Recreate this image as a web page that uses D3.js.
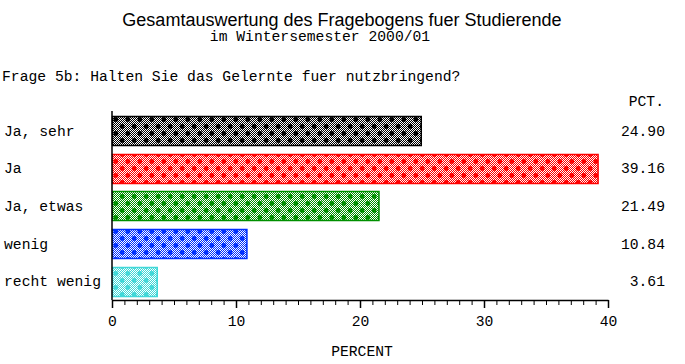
<!DOCTYPE html>
<html>
<head>
<meta charset="utf-8">
<script src="https://cdn.jsdelivr.net/npm/d3@7"></script>
<style>
body { margin: 0; background: #fff; }
text { font-family: "Liberation Mono", monospace; font-size: 14.7px; fill: #000; }
</style>
</head>
<body>
<div id="chart"></div>
<script>
var categories = ["Ja, sehr", "Ja", "Ja, etwas", "wenig", "recht wenig"];
var pctValues = [24.90, 39.16, 21.49, 10.84, 3.61];
var barColors = ["#000000", "#ff0000", "#009000", "#0030ff", "#40d8d8"];
var majorTicks = [0, 10, 20, 30, 40];

var width = 685, height = 364;
var svg = d3.select("#chart").append("svg").attr("width", width).attr("height", height);
var defs = svg.append("defs");

// hatch fill: fine checker + staggered dots
barColors.forEach(function(c, i) {
  var chk = defs.append("pattern").attr("id", "chk" + i).attr("width", 2).attr("height", 2)
    .attr("patternUnits", "userSpaceOnUse");
  chk.append("rect").attr("width", 2).attr("height", 2).attr("fill", "#fff");
  chk.append("rect").attr("width", 1).attr("height", 1).attr("fill", c);
  chk.append("rect").attr("x", 1).attr("y", 1).attr("width", 1).attr("height", 1).attr("fill", c);
  var p = defs.append("pattern").attr("id", "pat" + i).attr("width", 12).attr("height", 14)
    .attr("patternUnits", "userSpaceOnUse").attr("x", 113).attr("y", 116);
  p.append("rect").attr("width", 12).attr("height", 14).attr("fill", "url(#chk" + i + ")");
  p.append("circle").attr("cx", 3).attr("cy", 3.5).attr("r", 2.4).attr("fill", c);
  p.append("circle").attr("cx", 9).attr("cy", 10.5).attr("r", 2.4).attr("fill", c);
});

var x = d3.scaleLinear().domain([0, 40]).range([112, 608]);
var y = d3.scaleBand().domain(categories).range([112, 300]).paddingInner(0.22).paddingOuter(0.11);

svg.append("text").attr("x", 342).attr("y", 26).attr("text-anchor", "middle")
  .style("font-family", "'Liberation Sans', Arial, sans-serif").style("font-size", "18px")
  .text("Gesamtauswertung des Fragebogens fuer Studierende");
svg.append("text").attr("x", 320).attr("y", 41).attr("text-anchor", "middle")
  .text("im Wintersemester 2000/01");
svg.append("text").attr("x", 2).attr("y", 81).text("Frage 5b: Halten Sie das Gelernte fuer nutzbringend?");
svg.append("text").attr("x", 664).attr("y", 106).attr("text-anchor", "end").text("PCT.");

svg.selectAll("rect.bar").data(pctValues).enter().append("rect")
  .attr("class", "bar")
  .attr("x", x(0) + 0.5)
  .attr("y", function(d, i) { return Math.round(y(categories[i])) + 0.5; })
  .attr("width", function(d) { return x(d) - x(0); })
  .attr("height", Math.round(y.bandwidth()))
  .attr("fill", function(d, i) { return "url(#pat" + i + ")"; })
  .attr("stroke", function(d, i) { return barColors[i]; })
  .attr("stroke-width", 1.5);

svg.selectAll("text.cat").data(categories).enter().append("text")
  .attr("class", "cat").attr("x", 4)
  .attr("y", function(d) { return y(d) + y.bandwidth() / 2 + 5; })
  .text(function(d) { return d; });

svg.selectAll("text.pct").data(pctValues).enter().append("text")
  .attr("class", "pct").attr("x", 665).attr("text-anchor", "end")
  .attr("y", function(d, i) { return y(categories[i]) + y.bandwidth() / 2 + 5; })
  .text(function(d) { return d.toFixed(2); });

// minor ticks
svg.append("g").attr("transform", "translate(0,300)")
  .call(d3.axisBottom(x).ticks(40).tickSize(5).tickFormat("").tickSizeOuter(0))
  .call(function(g) { g.select(".domain").remove(); g.selectAll("line").attr("stroke", "#000"); });
// major ticks
var ax = svg.append("g").attr("transform", "translate(0,300)")
  .call(d3.axisBottom(x).tickValues(majorTicks).tickSize(8).tickSizeOuter(0).tickFormat(d3.format("d")));
ax.select(".domain").attr("stroke", "#000").attr("stroke-width", 1.5);
ax.selectAll("line").attr("stroke", "#000").attr("stroke-width", 1.5);
ax.selectAll("text").attr("y", 16).style("font-family", "'Liberation Mono', monospace").style("font-size", "14.7px");

svg.append("line").attr("x1", 112).attr("x2", 112).attr("y1", 111).attr("y2", 300)
  .attr("stroke", "#000").attr("stroke-width", 1.5);

svg.append("text").attr("x", 362).attr("y", 356).attr("text-anchor", "middle").text("PERCENT");
</script>
</body>
</html>
